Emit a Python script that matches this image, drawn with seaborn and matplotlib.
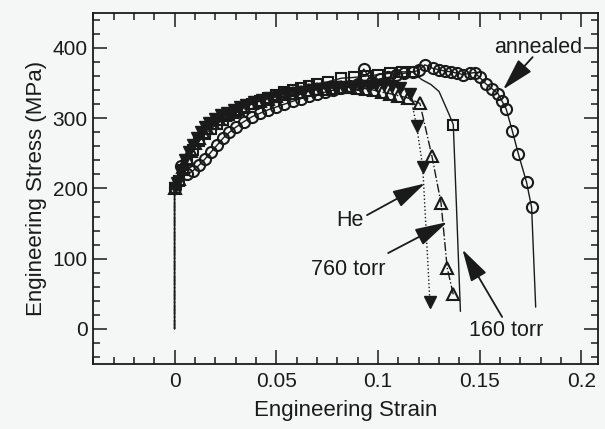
import numpy as np
import pandas as pd
import matplotlib
matplotlib.use('Agg')
import matplotlib.pyplot as plt
from matplotlib.ticker import MultipleLocator, FuncFormatter
import seaborn as sns

# values (strain, MPa)
annealed_strain = [0, 0.000, 0.003, 0.006, 0.009, 0.012, 0.015, 0.018, 0.021, 0.024, 0.027,
                   0.030, 0.034, 0.038, 0.042, 0.046, 0.050, 0.054, 0.058, 0.062, 0.066,
                   0.070, 0.074, 0.078, 0.082, 0.086, 0.090, 0.093, 0.097, 0.101, 0.105,
                   0.109, 0.113, 0.117, 0.120, 0.123, 0.127, 0.130, 0.133, 0.136, 0.139,
                   0.142, 0.145, 0.1475, 0.150, 0.153, 0.156, 0.159, 0.161, 0.163, 0.166,
                   0.169, 0.173, 0.1755, 0.1775]
annealed_stress = [0, 200, 232, 220, 225, 233, 242, 252, 262, 272, 280,
                   287, 295, 302, 307, 312, 316, 320, 324, 328, 331,
                   334, 337, 340, 343, 346, 349, 370, 352, 356, 358,
                   362, 364, 366, 368, 376, 371, 369, 367, 366, 364,
                   362, 364, 365, 358, 349, 342, 335, 324, 313, 282,
                   249, 209, 173, 31]

torr160_strain = [0, 0.000, 0.002, 0.004, 0.006, 0.009, 0.012, 0.015, 0.018, 0.021, 0.024,
                  0.027, 0.030, 0.034, 0.038, 0.042, 0.046, 0.050, 0.054, 0.058, 0.062,
                  0.066, 0.070, 0.0755, 0.082, 0.088, 0.094, 0.100, 0.106, 0.112, 0.117,
                  0.1215, 0.126, 0.130, 0.135, 0.137, 0.1385, 0.1405]
torr160_stress = [0, 200, 210, 226, 240, 255, 267, 277, 285, 292, 298,
                  304, 309, 315, 320, 325, 329, 333, 337, 340, 343,
                  346, 349, 352, 357, 358, 360, 362, 364, 366, 366,
                  355, 348, 338, 305, 291, 179, 25]

torr760_strain = [0, 0.000, 0.002, 0.004, 0.006, 0.008, 0.010, 0.012, 0.014, 0.016, 0.019,
                  0.022, 0.025, 0.028, 0.031, 0.034, 0.038, 0.042, 0.046, 0.050, 0.054,
                  0.058, 0.062, 0.066, 0.070, 0.074, 0.078, 0.082, 0.086, 0.090, 0.094,
                  0.098, 0.102, 0.106, 0.110, 0.1145, 0.1206, 0.1265, 0.131, 0.134, 0.137]
torr760_stress = [0, 200, 214, 230, 243, 254, 264, 272, 280, 286, 293,
                  299, 304, 309, 313, 317, 321, 325, 328, 331, 334,
                  336, 338, 340, 341, 342, 343, 344, 344, 343, 342,
                  340, 337, 335, 332, 329, 321, 246, 179, 87, 49]

he_strain = [0, 0.000, 0.001, 0.003, 0.005, 0.007, 0.009, 0.011, 0.013, 0.015, 0.017,
             0.020, 0.023, 0.026, 0.029, 0.032, 0.035, 0.039, 0.043, 0.047, 0.051,
             0.055, 0.059, 0.063, 0.067, 0.071, 0.075, 0.079, 0.083, 0.087, 0.091,
             0.095, 0.099, 0.103, 0.107, 0.111, 0.1157, 0.119, 0.122, 0.1255]
he_stress = [0, 200, 208, 224, 240, 252, 262, 272, 280, 287, 293,
             299, 304, 308, 312, 316, 319, 323, 326, 329, 332,
             334, 336, 338, 340, 341, 343, 344, 345, 345, 346,
             346, 347, 347, 346, 343, 334, 289, 230, 39]

labels = ['annealed', 'He', '760 torr', '160 torr']
label_xy = [(0.1785, 401), (0.0863, 155), (0.0853, 84), (0.163, -3)]
arrow_tail = [(0.176, 387), (0.0946, 162), (0.105, 108), (0.161, 17)]
arrow_tip = [(0.1615, 341), (0.1230, 207), (0.134, 152), (0.1415, 113)]

sns.set_theme(style='ticks')
plt.rcParams['font.family'] = ['Liberation Sans', 'DejaVu Sans']
bg = '#f5f7f7'

fig, ax = plt.subplots(figsize=(6.05, 4.29), dpi=100)
fig.patch.set_facecolor(bg)
ax.set_facecolor(bg)
fig.subplots_adjust(left=0.154, right=0.988, bottom=0.1515, top=0.970)

common = dict(sort=False, estimator=None, ax=ax, color='k', lw=1, mec='k')
sns.lineplot(x=annealed_strain, y=annealed_stress, linestyle='-', marker='o', ms=8,
             mfc='none', mew=1.5, markevery=list(range(1, len(annealed_strain) - 1)), **common)
marks160 = list(range(1, 31)) + [35]
sns.lineplot(x=torr160_strain, y=torr160_stress, linestyle='-', marker='s', ms=7,
             mfc='none', mew=1.5, markevery=marks160, **common)
sns.lineplot(x=torr760_strain, y=torr760_stress, linestyle='-.', marker='^', ms=8,
             mfc='none', mew=1.5, markevery=list(range(1, len(torr760_strain))), **common)
sns.lineplot(x=he_strain, y=he_stress, linestyle=':', marker='v', ms=8,
             mfc='k', mew=1, markevery=list(range(1, len(he_strain))), **common)

for lab, txy, tail, tip in zip(labels, label_xy, arrow_tail, arrow_tip):
    ax.text(txy[0], txy[1], lab, fontsize=15.5, ha='center', va='center', color='k')
    ax.annotate('', xy=tip, xytext=tail,
                arrowprops=dict(arrowstyle='-|>,head_length=2.0,head_width=0.55',
                                mutation_scale=10, color='k', lw=1.3,
                                shrinkA=0, shrinkB=0))

ax.set_xlim(-0.04, 0.208)
ax.set_ylim(-50, 450)
ax.xaxis.set_major_locator(MultipleLocator(0.05))
ax.xaxis.set_minor_locator(MultipleLocator(0.01))
ax.yaxis.set_major_locator(MultipleLocator(100))
ax.yaxis.set_minor_locator(MultipleLocator(20))
ax.xaxis.set_major_formatter(FuncFormatter(lambda v, p: '%g' % round(v, 3)))
ax.yaxis.set_major_formatter(FuncFormatter(lambda v, p: '%d' % round(v)))
ax.tick_params(which='both', direction='in', top=True, right=True, colors='k', width=1.1)
ax.tick_params(which='major', length=10, labelsize=15)
ax.tick_params(which='minor', length=5)
ax.tick_params(axis='x', pad=6)
ax.tick_params(axis='y', pad=4)
for s in ax.spines.values():
    s.set_visible(True)
    s.set_color('k')
    s.set_linewidth(1.3)

ax.set_xlabel('Engineering Strain', fontsize=16, color='k', labelpad=6)
ax.set_ylabel('Engineering Stress (MPa)', fontsize=16, color='k', labelpad=4)

fig.savefig('out.png', dpi=100, facecolor=bg)
